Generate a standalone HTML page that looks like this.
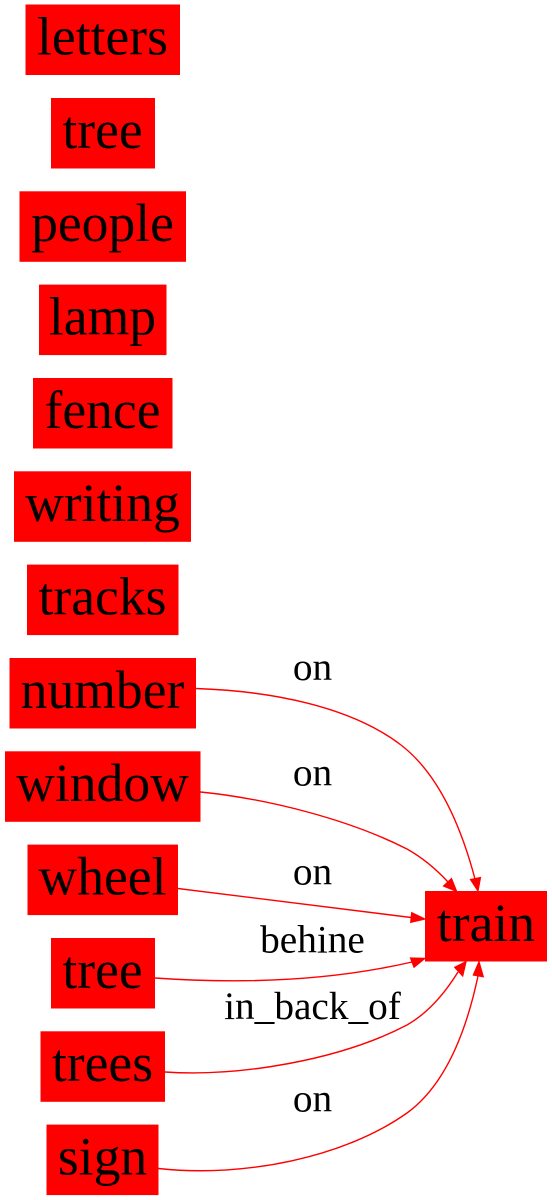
<!DOCTYPE html>
<html lang="en">
<head>
<meta charset="utf-8">
<title>Scene graph</title>
<style>
html,body{margin:0;padding:0;background:#fff;width:552px;height:1200px;overflow:hidden}
svg{display:block}
text{font-family:"Liberation Serif","Times New Roman",serif;fill:#000;text-anchor:middle}
.n{font-size:53.6px}
.l{font-size:39.3px}
rect{fill:#f00}
.e{fill:none;stroke:#f00;stroke-width:1.4}
.a{fill:#f00;stroke:#f00;stroke-width:1.2}
</style>
</head>
<body>
<svg xmlns="http://www.w3.org/2000/svg" width="552" height="1200" viewBox="0 0 552 1200">
<g><rect x="25.5" y="4.5" width="154.5" height="70.5"/><text class="n" x="102.5" y="54.5">letters</text></g>
<g><rect x="51" y="98" width="104" height="70.5"/><text class="n" x="102.5" y="148">tree</text></g>
<g><rect x="19.5" y="191.3" width="166.5" height="70.5"/><text class="n" x="102.5" y="241.2">people</text></g>
<g><rect x="39" y="284.6" width="127.5" height="70.5"/><text class="n" x="102.5" y="334.6">lamp</text></g>
<g><rect x="33" y="378" width="139.5" height="70.5"/><text class="n" x="102.5" y="428">fence</text></g>
<g><rect x="14" y="471.3" width="177" height="70.5"/><text class="n" x="102.5" y="521.2">writing</text></g>
<g><rect x="27" y="564.6" width="151.5" height="70.5"/><text class="n" x="102.5" y="614.6">tracks</text></g>
<g><rect x="9.5" y="658" width="186.5" height="70.5"/><text class="n" x="102.5" y="708">number</text></g>
<g><rect x="5" y="751.3" width="195.5" height="70.5"/><text class="n" x="102.5" y="801.2">window</text></g>
<g><rect x="27.5" y="844.6" width="150.5" height="70.5"/><text class="n" x="102.5" y="894.6">wheel</text></g>
<g><rect x="51" y="938" width="104" height="70.5"/><text class="n" x="102.5" y="988">tree</text></g>
<g><rect x="40.5" y="1031.3" width="124.5" height="70.5"/><text class="n" x="102.5" y="1081.2">trees</text></g>
<g><rect x="46.5" y="1124.6" width="112" height="70.5"/><text class="n" x="102.5" y="1174.6">sign</text></g>
<g><rect x="425" y="891" width="122" height="70.5"/><text class="n" x="486" y="941">train</text></g>

<g><path class="e" d="M196,688.5C270,691 350,706 401,745C440,775 462,830 475,879"/><polygon class="a" points="478,891 470.5,879.5 480.5,877.5"/></g>
<text class="l" x="312.5" y="680">on</text>
<g><path class="e" d="M200.5,792C270,799 350,820 407,849C423,858 436,869 448,882"/><polygon class="a" points="456.7,891.5 443.5,886 451.5,878.5"/></g>
<text class="l" x="312.5" y="785.5">on</text>
<g><path class="e" d="M178,888.5L411,917.5"/><polygon class="a" points="425,919 410.7,922.3 411.7,912.7"/></g>
<text class="l" x="312.5" y="884.5">on</text>
<g><path class="e" d="M155,978C240,984 330,981 412,962"/><polygon class="a" points="425,958.3 410.5,958 414,967.3"/></g>
<text class="l" x="312.5" y="952.5">behine</text>
<g><path class="e" d="M165,1072C240,1077 340,1060 407,1025C428,1013 445,993 458,972"/><polygon class="a" points="466,961.7 454.7,967.3 462.7,976"/></g>
<text class="l" x="312.5" y="1019">in_back_of</text>
<g><path class="e" d="M158.5,1168.5C245,1178 345,1157 407,1113C447,1084 467,1028 478,976"/><polygon class="a" points="479,961.7 473.3,975 483.3,976.7"/></g>
<text class="l" x="312.5" y="1111.5">on</text>
</svg>
</body>
</html>
